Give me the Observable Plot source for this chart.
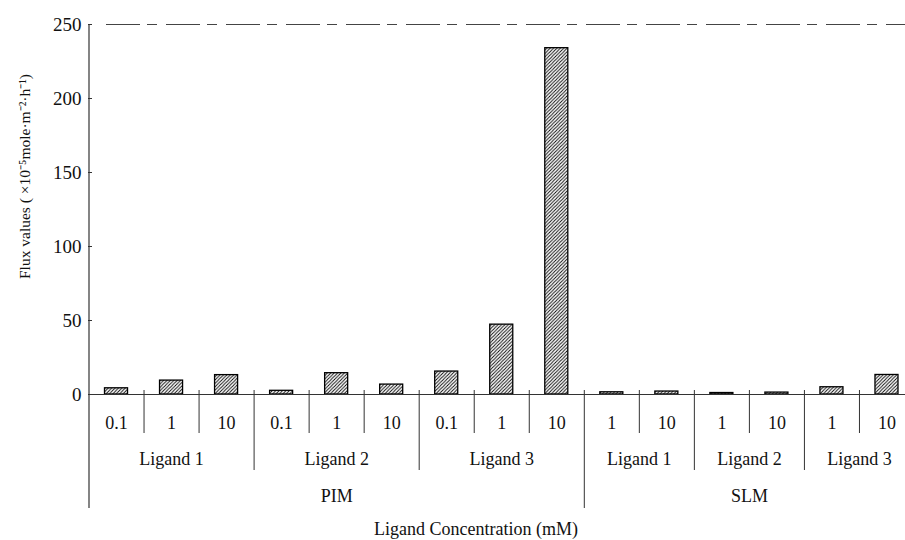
<!DOCTYPE html>
<html>
<head>
<meta charset="utf-8">
<script src="https://cdn.jsdelivr.net/npm/d3@7"></script>
<script src="https://cdn.jsdelivr.net/npm/@observablehq/plot@0.6"></script>
<style>
  html, body { margin: 0; padding: 0; background: #fff; overflow: hidden; }
  #chart { width: 905px; height: 540px; }
</style>
</head>
<body>
<div id="chart"></div>
<script>
// ---- data ----
const membranes = ["PIM", "SLM"];
const ligands = ["Ligand 1", "Ligand 2", "Ligand 3"];
const pimConcentrations = ["0.1", "1", "10"];
const slmConcentrations = ["1", "10"];
const pimFlux = [
  [4.2, 9.4, 13.1],   // Ligand 1
  [2.5, 14.4, 6.7],   // Ligand 2
  [15.5, 47.2, 234]   // Ligand 3
];
const slmFlux = [
  [1.5, 2.0],         // Ligand 1
  [1.0, 1.3],         // Ligand 2
  [4.9, 13.2]         // Ligand 3
];
const yTicks = [0, 50, 100, 150, 200, 250];
const yTitle = "Flux values ( ×10⁻⁵mole·m⁻²·h⁻¹)";
const xTitle = "Ligand Concentration (mM)";

// ---- build flat tables ----
const concByMembrane = {PIM: pimConcentrations, SLM: slmConcentrations};
const fluxByMembrane = {PIM: pimFlux, SLM: slmFlux};
const rows = [];
const ligandGroups = [];
const membraneGroups = [];
const dividers = [{pos: 0, level: 3}];
let idx = 0;
membranes.forEach((m) => {
  const mStart = idx;
  ligands.forEach((lg, li) => {
    const lStart = idx;
    concByMembrane[m].forEach((c, ci) => {
      rows.push({i: idx, membrane: m, ligand: lg, conc: c, v: fluxByMembrane[m][li][ci]});
      idx++;
      const last = ci === concByMembrane[m].length - 1;
      const lastLig = li === ligands.length - 1;
      dividers.push({pos: idx, level: !last ? 1 : (!lastLig ? 2 : 3)});
    });
    ligandGroups.push({label: lg, center: (lStart + idx) / 2});
  });
  membraneGroups.push({label: m, center: (mStart + idx) / 2});
});
const nCats = idx;

const font = "'Liberation Serif', 'Times New Roman', serif";
const ink = "#111";
const lineCol = "#333";

const plot = Plot.plot({
  width: 905,
  height: 540,
  marginTop: 24,
  marginBottom: 146,
  marginLeft: 88,
  marginRight: 0,
  style: {fontFamily: font, fontSize: "18px", color: ink, background: "#fff"},
  x: {type: "linear", domain: [0, nCats], range: [88.5, 914], axis: null},
  y: {domain: [0, 250]},
  marks: [
    // top dashed border at 250
    Plot.ruleY([250], {stroke: "#444", strokeWidth: 1, strokeDasharray: "34 7 10 9", insetLeft: 18}),
    // bars
    Plot.rectY(rows, {
      x1: d => d.i, x2: d => d.i + 1, y: "v",
      insetLeft: 16, insetRight: 16,
      fill: "url(#hatch)", stroke: "#000", strokeWidth: 1.3
    }),
    // baseline
    Plot.ruleY([0], {stroke: lineCol, strokeWidth: 1.2}),
    // y axis line (continues down through category axis)
    Plot.ruleX([0], {stroke: lineCol, strokeWidth: 1.2, insetBottom: -114}),
    // category dividers, three levels
    Plot.ruleX(dividers.filter(d => d.level === 1), {x: "pos", stroke: lineCol, strokeWidth: 1, insetTop: 366, insetBottom: -39}),
    Plot.ruleX(dividers.filter(d => d.level === 2), {x: "pos", stroke: lineCol, strokeWidth: 1, insetTop: 366, insetBottom: -76}),
    Plot.ruleX(dividers.filter(d => d.level === 3 && d.pos > 0), {x: "pos", stroke: lineCol, strokeWidth: 1, insetTop: 366, insetBottom: -114}),
    // y axis ticks (inward) and labels
    Plot.axisY({ticks: yTicks, tickSize: 4, dx: 4, tickFormat: () => "", label: null, stroke: lineCol}),
    Plot.axisY({ticks: yTicks, tickSize: 0, tickPadding: 7, label: null, fontSize: 19, fill: ink}),
    // category labels
    Plot.text(rows, {x: d => d.i + 0.5, text: "conc", frameAnchor: "bottom", dy: 34, fontSize: 18, fill: ink}),
    Plot.text(ligandGroups, {x: "center", text: "label", frameAnchor: "bottom", dy: 70, fontSize: 18, fill: ink}),
    Plot.text(membraneGroups, {x: "center", text: "label", frameAnchor: "bottom", dy: 107, fontSize: 18, fill: ink}),
    // axis titles
    Plot.text([xTitle], {frameAnchor: "bottom", dx: -21, dy: 140, fontSize: 18, fill: ink}),
    Plot.text([yTitle], {frameAnchor: "left", textAnchor: "middle", lineAnchor: "middle", rotate: -90, dx: -63, dy: -33, fontSize: 15.5, fill: ink})
  ]
});

// hatch pattern definition
const ns = "http://www.w3.org/2000/svg";
const defs = document.createElementNS(ns, "defs");
defs.innerHTML = `
  <pattern id="hatch" patternUnits="userSpaceOnUse" width="3.4" height="3.4">
    <rect width="3.4" height="3.4" fill="#fff"></rect>
    <path d="M-0.85,0.85 L0.85,-0.85 M0,3.4 L3.4,0 M2.55,4.25 L4.25,2.55" stroke="#000" stroke-width="0.9"></path>
  </pattern>`;
plot.insertBefore(defs, plot.firstChild);

document.getElementById("chart").appendChild(plot);
</script>
</body>
</html>
